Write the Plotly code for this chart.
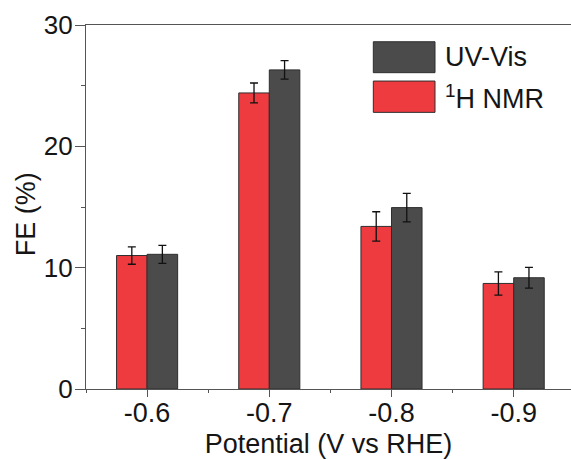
import plotly.graph_objects as go

# Faradaic efficiency at each applied potential, two quantification methods
potentials = ["-0.6", "-0.7", "-0.8", "-0.9"]
nmr_fe = [11.0, 24.4, 13.4, 8.7]
nmr_err = [0.72, 0.82, 1.21, 0.96]
uv_fe = [11.1, 26.3, 14.95, 9.17]
uv_err = [0.74, 0.76, 1.18, 0.85]

RED = "#EE3B3F"
DARK = "#4B4B4B"
EDGE = "#2E2E2E"
AXIS = "#555555"
FONT = "Liberation Sans, Arial, sans-serif"
TXT = "#151515"

xpos = list(range(len(potentials)))

fig = go.Figure()
fig.add_trace(go.Bar(
    x=xpos, y=nmr_fe, name="<sup>1</sup>H NMR",
    marker=dict(color=RED, line=dict(color=EDGE, width=1)),
    error_y=dict(type="data", array=nmr_err, color="#111", thickness=1.3, width=4),
))
fig.add_trace(go.Bar(
    x=xpos, y=uv_fe, name="UV-Vis",
    marker=dict(color=DARK, line=dict(color=EDGE, width=1)),
    error_y=dict(type="data", array=uv_err, color="#111", thickness=1.3, width=4),
))

fig.update_layout(
    width=571, height=459,
    margin=dict(l=86, r=0, t=25, b=70),
    paper_bgcolor="white", plot_bgcolor="white",
    barmode="group", bargap=0.5, bargroupgap=0,
    showlegend=False,
    font=dict(family=FONT, size=27, color=TXT),
)

fig.update_xaxes(
    range=[-0.5, 3.469],
    tickmode="array", tickvals=xpos, ticktext=potentials,
    ticks="outside", ticklen=7, tickwidth=1.3, tickcolor=AXIS,
    minor=dict(ticks="outside", ticklen=3, tickwidth=1.3, tickcolor=AXIS,
               tick0=0.5, dtick=1),
    showline=True, linecolor=AXIS, linewidth=1.3, mirror=True,
    showgrid=False, zeroline=False,
    tickfont=dict(size=27), ticklabelstandoff=-8,
    title=dict(text="Potential (V vs RHE)", font=dict(size=27), standoff=14),
)
fig.update_yaxes(
    range=[0, 30], tickvals=[0, 10, 20, 30],
    ticks="outside", ticklen=10, tickwidth=1.3, tickcolor=AXIS,
    minor=dict(ticks="outside", ticklen=4, tickwidth=1.3, tickcolor=AXIS,
               tick0=5, dtick=10),
    showline=True, linecolor=AXIS, linewidth=1.3, mirror=False,
    showgrid=False, zeroline=False,
    tickfont=dict(size=26), ticklabelstandoff=-3,
)

# y-axis title
fig.add_annotation(
    text="FE (%)", xref="paper", yref="paper", x=-0.1247, y=0.479,
    xanchor="center", yanchor="middle", textangle=-90, showarrow=False,
    font=dict(size=27),
)

# legend with large swatches
legend_rows = [("UV-Vis", DARK, 0.869, 0.954), ("<sup>1</sup>H NMR", RED, 0.760, 0.846)]
for label, color, y0, y1 in legend_rows:
    fig.add_shape(type="rect", xref="paper", yref="paper",
                  x0=0.5924, x1=0.7196, y0=y0, y1=y1,
                  fillcolor=color, line=dict(color=EDGE, width=1))
    fig.add_annotation(text=label, xref="paper", yref="paper",
                       x=0.736, y=(y0 + y1) / 2, xanchor="left", yanchor="middle",
                       showarrow=False, font=dict(size=27))

fig.write_html("out.html")
